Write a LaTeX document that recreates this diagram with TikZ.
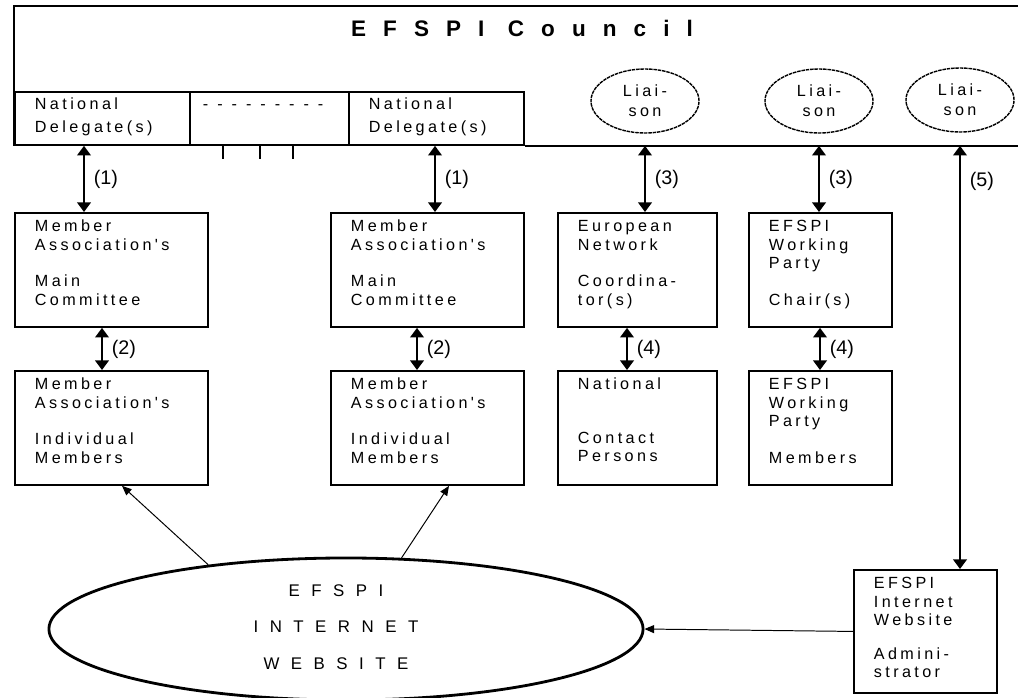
\documentclass[tikz,border=0pt]{standalone}
\usepackage{fontspec}
\setmainfont{Liberation Sans}
\newfontfamily\boxfont[LetterSpace=21]{Liberation Sans}
\newfontfamily\plainfont{Liberation Sans}
\newfontfamily\titlefont[LetterSpace=76]{Liberation Sans}
\newfontfamily\webfont[LetterSpace=68]{Liberation Sans}
\usetikzlibrary{shapes.geometric,arrows.meta,positioning,calc}
\tikzset{
  orgbox/.style={draw, line width=1.3pt, anchor=north west, align=left, inner xsep=0.5cm, inner ysep=0pt,
    text height=0.475cm, text depth=2.375cm, text width=#1, font=\boxfont\fontsize{11.5pt}{13pt}\selectfont},
  orgbox/.default=3.825cm,
  delbox/.style={draw, line width=1.3pt, anchor=north west, align=left, inner xsep=0.5cm, inner ysep=0pt,
    text height=0.45cm, text depth=0.875cm, text width=3.375cm, font=\boxfont\fontsize{11.5pt}{16pt}\selectfont},
  liaison/.style={ellipse, draw, line width=1pt, dash pattern=on 2.5pt off 0.6pt, minimum width=2.7cm, minimum height=1.6cm,
    inner sep=0pt, align=center, font=\boxfont\fontsize{11.5pt}{14pt}\selectfont},
  webell/.style={ellipse, draw, line width=2pt, minimum width=14.85cm, minimum height=3.55cm, inner sep=0pt},
  webtext/.style={inner sep=0pt, align=center, font=\webfont\fontsize{12pt}{26pt}\selectfont},
  councilttl/.style={inner sep=0pt, font=\titlefont\bfseries\fontsize{16pt}{18pt}\selectfont},
  frameline/.style={line width=2.1pt},
  councilline/.style={line width=1.7pt},
  tickline/.style={line width=1.3pt},
  bothway/.style={{Triangle[length=2.4mm,width=3.4mm]}-{Triangle[length=2.4mm,width=3.4mm]}, line width=1.4pt},
  thinarrow/.style={-{Triangle[length=2.4mm,width=2mm]}, line width=0.7pt},
  numlbl/.style={midway, anchor=west, inner sep=0pt, xshift=0.22cm, font=\plainfont\fontsize{14pt}{16pt}\selectfont},
}
\begin{document}
\begin{tikzpicture}[x=0.025cm, y=-0.025cm]
  \path[use as bounding box, clip] (0,0) rectangle (1018,697);

  % council
  \node[councilttl] (ttl) at (522,28) {EFSPI Council};
  \node[delbox] (del1) at (14,91) {National\\Delegate(s)};
  \node[delbox, text width=3.325cm, inner xsep=0.325cm] (del2) at (189,91) {{\plainfont\spaceskip=6.4pt\relax - - - - - - - - -}};
  \node[delbox] (del3) at (348,91) {National\\Delegate(s)};
  \draw[frameline] (del1.south west) -- (del1.south west |- 0,6) -- (1018,6);
  \draw[councilline] (del3.south east) -- (del3.south east -| 1018,0);
  \foreach \tx in {223,260,293}
    \draw[tickline] (del2.south -| \tx,0) -- ++(0,13);

  \node[liaison] (lia1) at (645,101) {Liai-\\son};
  \node[liaison] (lia2) at (819,101) {Liai-\\son};
  \node[liaison] (lia3) at (960,100) {Liai-\\son};

  % member associations, networks, working parties
  \node[orgbox] (mc1) at (14,212) {Member\\Association's\\[13pt]Main\\Committee};
  \node[orgbox] (mc2) at (330,212) {Member\\Association's\\[13pt]Main\\Committee};
  \node[orgbox=2.975cm] (eur) at (557,212) {European\\Network\\[13pt]Coordina-\\tor(s)};
  \node[orgbox=2.575cm] (wpc) at (748,212) {EFSPI\\Working\\Party\\[13pt]Chair(s)};
  \node[orgbox] (mi1) at (14,370) {Member\\Association's\\[13pt]Individual\\Members};
  \node[orgbox] (mi2) at (330,370) {Member\\Association's\\[13pt]Individual\\Members};
  \node[orgbox=2.975cm] (ncp) at (557,370) {National\\[25pt]Contact\\Persons};
  \node[orgbox=2.575cm] (wpm) at (748,370) {EFSPI\\Working\\Party\\[13pt]Members};

  % website
  \node[webell] (web) at (346,629) {};
  \node[webtext] (webtxt) at (336,627) {EFSPI\\INTERNET\\WEBSITE};
  \node[orgbox=2.575cm, text depth=2.6cm] (adm) at (853,569) {EFSPI\\Internet\\Website\\[11pt]Admini-\\strator};

  \foreach \a/\b/\x/\t [count=\i] in {del1/mc1/84/1, del3/mc2/435/1, mc1/mi1/102/2, mc2/mi2/417/2, eur/ncp/627/4, wpc/wpm/820/4}
    \draw[bothway] (\a.south -| \x,0) -- (\b.north -| \x,0) node[numlbl] (num\i) {(\t)};
  \foreach \l/\b/\t/\p [count=\i from 7] in {lia1/eur/3/0.5, lia2/wpc/3/0.5, lia3/adm/5/0.085}
    \draw[bothway] (\l |- del3.south) -- (\b.north -| \l) node[numlbl, pos=\p] (num\i) {(\t)};

  \draw[thinarrow] (web.155) -- (mi1.south -| 122,0);
  \draw[thinarrow] (web.52) -- (mi2.south -| 449,0);
  \draw[thinarrow] (adm.west) -- (web.east);
\end{tikzpicture}
\end{document}
